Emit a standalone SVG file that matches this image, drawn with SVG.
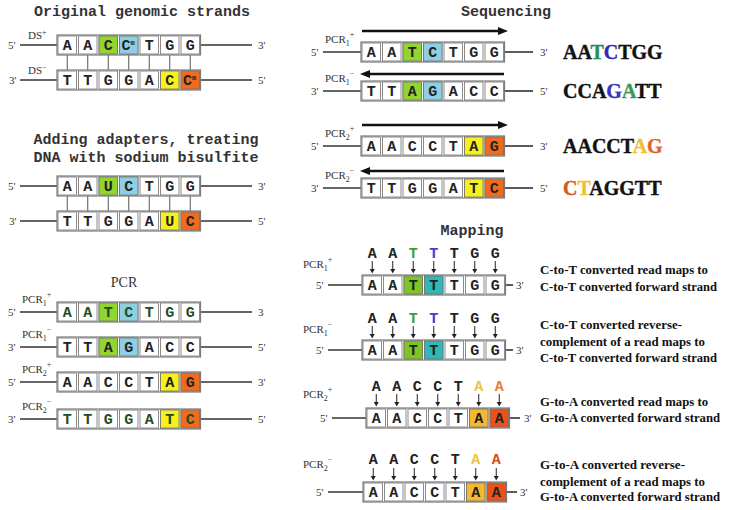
<svg xmlns="http://www.w3.org/2000/svg" width="732" height="510" viewBox="0 0 732 510">
<style>
.frame{fill:#fff;stroke:#7a7a7a;stroke-width:1.2}
.cell{fill:#fff;stroke:#707070;stroke-width:0.8}
.cc{stroke:#707070;stroke-width:0.8}
.base{font-family:"Liberation Mono",monospace;font-weight:bold;font-size:15px;text-anchor:middle;fill:#222}
.title{font-family:"Liberation Mono",monospace;font-weight:bold;font-size:15px;text-anchor:middle;fill:#333}
.lbl{font-family:"Liberation Serif",serif;font-size:11px;fill:#333}
.strand{stroke:#333;stroke-width:1.6}
.link{stroke:#555;stroke-width:1}
.seqarrow{stroke:#111;stroke-width:2.5}
.seq{font-family:"Liberation Serif",serif;font-weight:bold;font-size:20px;fill:#111;stroke:#111;stroke-width:0.4}
.desc{font-family:"Liberation Serif",serif;font-weight:bold;font-size:12.5px;fill:#111}
.sm{font-size:8px}
</style>
<defs>
<g id="cells7">
<rect class="frame" x="0" y="0" width="143.5" height="20"/>
<rect class="cell" x="1" y="1" width="18.5" height="18"/>
<rect class="cell" x="21.5" y="1" width="18.5" height="18"/>
<rect class="cell" x="42" y="1" width="18.5" height="18"/>
<rect class="cell" x="62.5" y="1" width="18.5" height="18"/>
<rect class="cell" x="83" y="1" width="18.5" height="18"/>
<rect class="cell" x="103.5" y="1" width="18.5" height="18"/>
<rect class="cell" x="124" y="1" width="18.5" height="18"/>
</g>
<g id="tick">
<line x1="0" y1="-14" x2="0" y2="-5" stroke="#222" stroke-width="1"/>
<path d="M-2.5,-6 L2.5,-6 L0,-1.5 z" fill="#222"/>
</g>
<marker id="head" markerUnits="userSpaceOnUse" markerWidth="10" markerHeight="8" refX="0" refY="4" orient="auto">
<path d="M0,0 L10,4 L0,8 z" fill="#111"/>
</marker>
</defs>

<!-- titles -->
<g id="titles">
<text class="title" x="142" y="16">Original genomic strands</text>
<text class="title" x="146" y="144">Adding adapters, treating</text>
<text class="title" x="146" y="162">DNA with sodium bisulfite</text>
<text class="lbl" x="124" y="287" style="font-size:14px;text-anchor:middle">PCR</text>
<text class="title" x="506" y="16">Sequencing</text>
<text class="title" x="472" y="235">Mapping</text>
</g>

<!-- connectors -->
<g id="connectors">
<line class="strand" x1="20" y1="45" x2="57" y2="45"/><line class="strand" x1="200.5" y1="45" x2="252" y2="45"/>
<line class="strand" x1="20" y1="80" x2="57" y2="80"/><line class="strand" x1="200.5" y1="80" x2="252" y2="80"/>
<g class="link">
<line x1="67.25" y1="55" x2="67.25" y2="70"/><line x1="87.75" y1="55" x2="87.75" y2="70"/><line x1="108.25" y1="55" x2="108.25" y2="70"/><line x1="128.75" y1="55" x2="128.75" y2="70"/><line x1="149.25" y1="55" x2="149.25" y2="70"/><line x1="169.75" y1="55" x2="169.75" y2="70"/><line x1="190.25" y1="55" x2="190.25" y2="70"/>
<line x1="67.25" y1="196" x2="67.25" y2="211"/><line x1="87.75" y1="196" x2="87.75" y2="211"/><line x1="108.25" y1="196" x2="108.25" y2="211"/><line x1="128.75" y1="196" x2="128.75" y2="211"/><line x1="149.25" y1="196" x2="149.25" y2="211"/><line x1="169.75" y1="196" x2="169.75" y2="211"/><line x1="190.25" y1="196" x2="190.25" y2="211"/>
</g>
<line class="strand" x1="20" y1="186" x2="57" y2="186"/><line class="strand" x1="200.5" y1="186" x2="252" y2="186"/>
<line class="strand" x1="20" y1="221" x2="57" y2="221"/><line class="strand" x1="200.5" y1="221" x2="252" y2="221"/>
<line class="strand" x1="20" y1="312" x2="57" y2="312"/><line class="strand" x1="200.5" y1="312" x2="252" y2="312"/>
<line class="strand" x1="20" y1="347" x2="57" y2="347"/><line class="strand" x1="200.5" y1="347" x2="252" y2="347"/>
<line class="strand" x1="20" y1="382" x2="57" y2="382"/><line class="strand" x1="200.5" y1="382" x2="252" y2="382"/>
<line class="strand" x1="20" y1="419" x2="57" y2="419"/><line class="strand" x1="200.5" y1="419" x2="252" y2="419"/>
<!-- sequencing -->
<line class="strand" x1="323" y1="52" x2="361" y2="52"/><line class="strand" x1="504.5" y1="52" x2="533" y2="52"/>
<line class="strand" x1="323" y1="91" x2="361" y2="91"/><line class="strand" x1="504.5" y1="91" x2="533" y2="91"/>
<line class="strand" x1="323" y1="146" x2="361" y2="146"/><line class="strand" x1="504.5" y1="146" x2="533" y2="146"/>
<line class="strand" x1="323" y1="188" x2="361" y2="188"/><line class="strand" x1="504.5" y1="188" x2="533" y2="188"/>
<line class="seqarrow" x1="362" y1="31" x2="498" y2="31" marker-end="url(#head)"/>
<line class="seqarrow" x1="504" y1="74" x2="370" y2="74" marker-end="url(#head)"/>
<line class="seqarrow" x1="362" y1="125" x2="498" y2="125" marker-end="url(#head)"/>
<line class="seqarrow" x1="504" y1="171" x2="370" y2="171" marker-end="url(#head)"/>
<!-- mapping -->
<line class="strand" x1="328" y1="285" x2="362" y2="285"/><line class="strand" x1="505.5" y1="285" x2="513" y2="285"/>
<line class="strand" x1="328" y1="350" x2="362" y2="350"/><line class="strand" x1="505.5" y1="350" x2="513" y2="350"/>
<line class="strand" x1="332" y1="418" x2="366" y2="418"/><line class="strand" x1="509.5" y1="418" x2="520" y2="418"/>
<line class="strand" x1="328" y1="492" x2="363" y2="492"/><line class="strand" x1="506.5" y1="492" x2="517" y2="492"/>
<g transform="translate(362,275)"><use href="#tick" x="10.25"/><use href="#tick" x="30.75"/><use href="#tick" x="51.25"/><use href="#tick" x="71.75"/><use href="#tick" x="92.25"/><use href="#tick" x="112.75"/><use href="#tick" x="133.25"/></g>
<g transform="translate(362,340)"><use href="#tick" x="10.25"/><use href="#tick" x="30.75"/><use href="#tick" x="51.25"/><use href="#tick" x="71.75"/><use href="#tick" x="92.25"/><use href="#tick" x="112.75"/><use href="#tick" x="133.25"/></g>
<g transform="translate(366,408)"><use href="#tick" x="10.25"/><use href="#tick" x="30.75"/><use href="#tick" x="51.25"/><use href="#tick" x="71.75"/><use href="#tick" x="92.25"/><use href="#tick" x="112.75"/><use href="#tick" x="133.25"/></g>
<g transform="translate(363,482)"><use href="#tick" x="10.25"/><use href="#tick" x="30.75"/><use href="#tick" x="51.25"/><use href="#tick" x="71.75"/><use href="#tick" x="92.25"/><use href="#tick" x="112.75"/><use href="#tick" x="133.25"/></g>
</g>

<!-- original genomic strands -->
<g id="ds-plus">
<text class="lbl" x="28" y="39">DS<tspan class="sm" dy="-4">+</tspan></text>
<text class="lbl" x="8" y="49">5'</text><text class="lbl" x="258" y="49">3'</text>
<g transform="translate(57,35)">
<use href="#cells7"/>
<rect class="cc" x="42" y="1" width="18.5" height="18" fill="#93d52f"/>
<rect class="cc" x="62.5" y="1" width="18.5" height="18" fill="#8dd0e4"/>
<text class="base" x="10.25 30.75 51.25" y="15">AAC</text>
<text class="base" style="text-anchor:start" x="64.5" y="15">C<tspan font-size="7" dy="-5">m</tspan></text>
<text class="base" x="92.25 112.75 133.25" y="15">TGG</text>
</g>
</g>
<g id="ds-minus">
<text class="lbl" x="28" y="74">DS<tspan class="sm" dy="-4">−</tspan></text>
<text class="lbl" x="9" y="84">3'</text><text class="lbl" x="258" y="84">5'</text>
<g transform="translate(57,70)">
<use href="#cells7"/>
<rect class="cc" x="103.5" y="1" width="18.5" height="18" fill="#f7f01e"/>
<rect class="cc" x="124" y="1" width="18.5" height="18" fill="#f06b1e"/>
<text class="base" x="10.25 30.75 51.25 71.75 92.25 112.75" y="15">TTGGAC</text>
<text class="base" style="text-anchor:start" x="126" y="15">C<tspan font-size="7" dy="-5">m</tspan></text>
</g>
</g>

<!-- bisulfite -->
<g id="bis-top">
<text class="lbl" x="8" y="190">5'</text><text class="lbl" x="258" y="190">3'</text>
<g transform="translate(57,176)">
<use href="#cells7"/>
<rect class="cc" x="42" y="1" width="18.5" height="18" fill="#93d52f"/>
<rect class="cc" x="62.5" y="1" width="18.5" height="18" fill="#8dd0e4"/>
<text class="base" x="10.25 30.75 51.25 71.75 92.25 112.75 133.25" y="15">AAUCTGG</text>
</g>
</g>
<g id="bis-bottom">
<text class="lbl" x="9" y="225">3'</text><text class="lbl" x="258" y="225">5'</text>
<g transform="translate(57,211)">
<use href="#cells7"/>
<rect class="cc" x="103.5" y="1" width="18.5" height="18" fill="#f7f01e"/>
<rect class="cc" x="124" y="1" width="18.5" height="18" fill="#f06b1e"/>
<text class="base" x="10.25 30.75 51.25 71.75 92.25 112.75 133.25" y="15">TTGGAUC</text>
</g>
</g>

<!-- PCR -->
<g id="pcr1-plus">
<text class="lbl" x="22" y="303">PCR<tspan class="sm" dy="3">1</tspan><tspan class="sm" dy="-9">+</tspan></text>
<text class="lbl" x="8" y="316">5'</text><text class="lbl" x="258" y="316">3</text>
<g transform="translate(57,302)">
<use href="#cells7"/>
<rect class="cc" x="42" y="1" width="18.5" height="18" fill="#93d52f"/>
<rect class="cc" x="62.5" y="1" width="18.5" height="18" fill="#8dd0e4"/>
<text class="base" style="fill:#1e4d22" x="10.25 30.75 51.25 71.75 92.25 112.75 133.25" y="15">AATCTGG</text>
</g>
</g>
<g id="pcr1-minus">
<text class="lbl" x="22" y="338">PCR<tspan class="sm" dy="3">1</tspan><tspan class="sm" dy="-9">−</tspan></text>
<text class="lbl" x="8" y="351">3'</text><text class="lbl" x="258" y="351">5'</text>
<g transform="translate(57,337)">
<use href="#cells7"/>
<rect class="cc" x="42" y="1" width="18.5" height="18" fill="#93d52f"/>
<rect class="cc" x="62.5" y="1" width="18.5" height="18" fill="#8dd0e4"/>
<text class="base" x="10.25 30.75 51.25 71.75 92.25 112.75 133.25" y="15">TTAGACC</text>
</g>
</g>
<g id="pcr2-plus">
<text class="lbl" x="22" y="373">PCR<tspan class="sm" dy="3">2</tspan><tspan class="sm" dy="-9">+</tspan></text>
<text class="lbl" x="8" y="386">5'</text><text class="lbl" x="258" y="386">3'</text>
<g transform="translate(57,372)">
<use href="#cells7"/>
<rect class="cc" x="103.5" y="1" width="18.5" height="18" fill="#f7f01e"/>
<rect class="cc" x="124" y="1" width="18.5" height="18" fill="#f06b1e"/>
<text class="base" x="10.25 30.75 51.25 71.75 92.25 112.75 133.25" y="15">AACCTAG</text>
</g>
</g>
<g id="pcr2-minus">
<text class="lbl" x="22" y="410">PCR<tspan class="sm" dy="3">2</tspan><tspan class="sm" dy="-9">−</tspan></text>
<text class="lbl" x="8" y="423">3'</text><text class="lbl" x="258" y="423">5'</text>
<g transform="translate(57,409)">
<use href="#cells7"/>
<rect class="cc" x="103.5" y="1" width="18.5" height="18" fill="#f7f01e"/>
<rect class="cc" x="124" y="1" width="18.5" height="18" fill="#f06b1e"/>
<text class="base" style="fill:#1e4d22" x="10.25 30.75 51.25 71.75 92.25 112.75 133.25" y="15">TTGGATC</text>
</g>
</g>

<!-- sequencing -->
<g id="seq1-plus">
<text class="lbl" x="325" y="43">PCR<tspan class="sm" dy="3">1</tspan><tspan class="sm" dy="-9">+</tspan></text>
<text class="lbl" x="311" y="56">5'</text><text class="lbl" x="540" y="56">3'</text>
<g transform="translate(361,42)">
<use href="#cells7"/>
<rect class="cc" x="42" y="1" width="18.5" height="18" fill="#93d52f"/>
<rect class="cc" x="62.5" y="1" width="18.5" height="18" fill="#8dd0e4"/>
<text class="base" x="10.25 30.75 51.25 71.75 92.25 112.75 133.25" y="15">AATCTGG</text>
</g>
<text class="seq" x="563" y="59">AA<tspan fill="#2e8b57" stroke="#2e8b57">T</tspan><tspan fill="#2b2bb5" stroke="#2b2bb5">C</tspan>TGG</text>
</g>
<g id="seq1-minus">
<text class="lbl" x="325" y="82">PCR<tspan class="sm" dy="3">1</tspan><tspan class="sm" dy="-9">−</tspan></text>
<text class="lbl" x="311" y="95">3'</text><text class="lbl" x="540" y="95">5'</text>
<g transform="translate(361,81)">
<use href="#cells7"/>
<rect class="cc" x="42" y="1" width="18.5" height="18" fill="#93d52f"/>
<rect class="cc" x="62.5" y="1" width="18.5" height="18" fill="#8dd0e4"/>
<text class="base" x="10.25 30.75 51.25 71.75 92.25 112.75 133.25" y="15">TTAGACC</text>
</g>
<text class="seq" x="563" y="98">CCA<tspan fill="#3434c0" stroke="#3434c0">G</tspan><tspan fill="#3a9a55" stroke="#3a9a55">A</tspan>TT</text>
</g>
<g id="seq2-plus">
<text class="lbl" x="325" y="137">PCR<tspan class="sm" dy="3">2</tspan><tspan class="sm" dy="-9">+</tspan></text>
<text class="lbl" x="311" y="150">5'</text><text class="lbl" x="540" y="150">3'</text>
<g transform="translate(361,136)">
<use href="#cells7"/>
<rect class="cc" x="103.5" y="1" width="18.5" height="18" fill="#f7f01e"/>
<rect class="cc" x="124" y="1" width="18.5" height="18" fill="#f06b1e"/>
<text class="base" x="10.25 30.75 51.25 71.75 92.25 112.75 133.25" y="15">AACCTAG</text>
</g>
<text class="seq" x="563" y="153">AACCT<tspan fill="#f0c030" stroke="#f0c030">A</tspan><tspan fill="#e0642a" stroke="#e0642a">G</tspan></text>
</g>
<g id="seq2-minus">
<text class="lbl" x="325" y="179">PCR<tspan class="sm" dy="3">2</tspan><tspan class="sm" dy="-9">−</tspan></text>
<text class="lbl" x="311" y="192">3'</text><text class="lbl" x="540" y="192">5'</text>
<g transform="translate(361,178)">
<use href="#cells7"/>
<rect class="cc" x="103.5" y="1" width="18.5" height="18" fill="#f7f01e"/>
<rect class="cc" x="124" y="1" width="18.5" height="18" fill="#f06b1e"/>
<text class="base" x="10.25 30.75 51.25 71.75 92.25 112.75 133.25" y="15">TTGGATC</text>
</g>
<text class="seq" x="563" y="195"><tspan fill="#d9561c" stroke="#d9561c">C</tspan><tspan fill="#f0c030" stroke="#f0c030">T</tspan>AGGTT</text>
</g>

<!-- mapping -->
<g id="map1-plus">
<text class="lbl" x="303" y="268">PCR<tspan class="sm" dy="3">1</tspan><tspan class="sm" dy="-9">+</tspan></text>
<text class="lbl" x="316" y="289">5'</text><text class="lbl" x="516" y="289">3'</text>
<g transform="translate(362,275)">
<use href="#cells7"/>
<rect class="cc" x="42" y="1" width="18.5" height="18" fill="#7ec425"/>
<rect class="cc" x="62.5" y="1" width="18.5" height="18" fill="#2fb8b8"/>
<text class="base" x="10.25 30.75 51.25 71.75 92.25 112.75 133.25" y="15">AATTTGG</text>
<text class="base" y="-17"><tspan x="10.25">A</tspan><tspan x="30.75">A</tspan><tspan x="51.25" fill="#3c9c3c">T</tspan><tspan x="71.75" fill="#4a3ad8">T</tspan><tspan x="92.25">T</tspan><tspan x="112.75">G</tspan><tspan x="133.25">G</tspan></text>
</g>
<text class="desc" x="540" y="274" textLength="168" lengthAdjust="spacingAndGlyphs">C-to-T converted read maps to</text>
<text class="desc" x="540" y="291" textLength="177" lengthAdjust="spacingAndGlyphs">C-to-T converted forward strand</text>
</g>
<g id="map1-minus">
<text class="lbl" x="303" y="333">PCR<tspan class="sm" dy="3">1</tspan><tspan class="sm" dy="-9">−</tspan></text>
<text class="lbl" x="316" y="354">5'</text><text class="lbl" x="516" y="354">3'</text>
<g transform="translate(362,340)">
<use href="#cells7"/>
<rect class="cc" x="42" y="1" width="18.5" height="18" fill="#7ec425"/>
<rect class="cc" x="62.5" y="1" width="18.5" height="18" fill="#2fb8b8"/>
<text class="base" x="10.25 30.75 51.25 71.75 92.25 112.75 133.25" y="15">AATTTGG</text>
<text class="base" y="-17"><tspan x="10.25">A</tspan><tspan x="30.75">A</tspan><tspan x="51.25" fill="#3c9c3c">T</tspan><tspan x="71.75" fill="#4a3ad8">T</tspan><tspan x="92.25">T</tspan><tspan x="112.75">G</tspan><tspan x="133.25">G</tspan></text>
</g>
<text class="desc" x="540" y="329" textLength="142" lengthAdjust="spacingAndGlyphs">C-to-T converted reverse-</text>
<text class="desc" x="540" y="346" textLength="165" lengthAdjust="spacingAndGlyphs">complement of a read maps to</text>
<text class="desc" x="540" y="362" textLength="177" lengthAdjust="spacingAndGlyphs">C-to-T converted forward strand</text>
</g>
<g id="map2-plus">
<text class="lbl" x="303" y="398">PCR<tspan class="sm" dy="3">2</tspan><tspan class="sm" dy="-9">+</tspan></text>
<text class="lbl" x="320" y="422">5'</text><text class="lbl" x="524" y="422">3'</text>
<g transform="translate(366,408)">
<use href="#cells7"/>
<rect class="cc" x="103.5" y="1" width="18.5" height="18" fill="#f6b830"/>
<rect class="cc" x="124" y="1" width="18.5" height="18" fill="#ea5318"/>
<text class="base" x="10.25 30.75 51.25 71.75 92.25 112.75 133.25" y="15">AACCTAA</text>
<text class="base" y="-17"><tspan x="10.25">A</tspan><tspan x="30.75">A</tspan><tspan x="51.25">C</tspan><tspan x="71.75">C</tspan><tspan x="92.25">T</tspan><tspan x="112.75" fill="#f2c338">A</tspan><tspan x="133.25" fill="#ec7a34">A</tspan></text>
</g>
<text class="desc" x="540" y="406" textLength="168" lengthAdjust="spacingAndGlyphs">G-to-A converted read maps to</text>
<text class="desc" x="540" y="422" textLength="180" lengthAdjust="spacingAndGlyphs">G-to-A converted forward strand</text>
</g>
<g id="map2-minus">
<text class="lbl" x="303" y="468">PCR<tspan class="sm" dy="3">2</tspan><tspan class="sm" dy="-9">−</tspan></text>
<text class="lbl" x="316" y="496">5'</text><text class="lbl" x="520" y="496">3'</text>
<g transform="translate(363,482)">
<use href="#cells7"/>
<rect class="cc" x="103.5" y="1" width="18.5" height="18" fill="#f6b830"/>
<rect class="cc" x="124" y="1" width="18.5" height="18" fill="#ea5318"/>
<text class="base" x="10.25 30.75 51.25 71.75 92.25 112.75 133.25" y="15">AACCTAA</text>
<text class="base" y="-18"><tspan x="10.25">A</tspan><tspan x="30.75">A</tspan><tspan x="51.25">C</tspan><tspan x="71.75">C</tspan><tspan x="92.25">T</tspan><tspan x="112.75" fill="#f2c338">A</tspan><tspan x="133.25" fill="#d9471f">A</tspan></text>
</g>
<text class="desc" x="540" y="469" textLength="145" lengthAdjust="spacingAndGlyphs">G-to-A converted reverse-</text>
<text class="desc" x="540" y="486" textLength="165" lengthAdjust="spacingAndGlyphs">complement of a read maps to</text>
<text class="desc" x="540" y="501" textLength="180" lengthAdjust="spacingAndGlyphs">G-to-A converted forward strand</text>
</g>
</svg>
